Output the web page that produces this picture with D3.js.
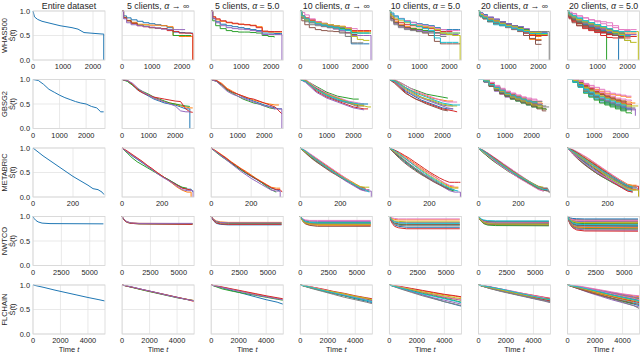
<!DOCTYPE html>
<html>
<head>
<meta charset="utf-8">
<script src="https://cdn.jsdelivr.net/npm/d3@7"></script>
<style>
  body { margin: 0; background: #fff; }
  text { font-family: "Liberation Sans", Arial, sans-serif; fill: #262626; }
</style>
</head>
<body>
<div id="chart"></div>
<script>
// matplotlib tab10 cycle
var colors = ["#1f77b4", "#ff7f0e", "#2ca02c", "#d62728", "#9467bd",
              "#8c564b", "#e377c2", "#7f7f7f", "#bcbd22", "#17becf"];

var columnTitles = [
  ["Entire dataset"],
  ["5 clients, ", "α", " → ∞"],
  ["5 clients, ", "α", " = 5.0"],
  ["10 clients, ", "α", " → ∞"],
  ["10 clients, ", "α", " = 5.0"],
  ["20 clients, ", "α", " → ∞"],
  ["20 clients, ", "α", " = 5.0"]
];

var datasetNames = ["WHAS500", "GBSG2", "METABRIC", "NWTCO", "FLCHAIN"];
var yTicks = [0, 0.5, 1];

// ---- WHAS500 ----
var whasTimes = [0, 50, 150, 300, 500, 700, 900, 1100, 1300, 1500, 1700, 1900, 2100, 2300, 2358];
var whasTicks = [0, 1000, 2000];
var whasCurves = [
  [[1,.88,.83,.79,.76,.73,.70,.68,.66,.63,.56,.55,.54,.53,0]],
  [[1,.90,.86,.82,.79,.76,.74,.72,.70,.66,.57,.56,.55,.55,.55],
   [1,.87,.81,.77,.73,.72,.71,.71,.70,.68,.50,.48,.48,.48,0],
   [1,.86,.80,.75,.71,.69,.66,.65,.64,.62,.50,.50,.50,.50],
   [1,.86,.80,.75,.70,.68,.66,.65,.64,.60,.58,.55,.55,.54,0],
   [1,.84,.76,.72,.70,.68,.67,.65,.63,.62,.62,.62,.62]],
  [[1,.85,.78,.73,.70,.68,.66,.64,.62,.60,.55,.55,.54,.54,.54],
   [1,.88,.82,.79,.76,.74,.73,.72,.71,.68,.58,.57,.57,.57,.57],
   [1,.80,.70,.64,.60,.58,.57,.57,.56,.55,.50,.48,.46],
   [1,.88,.84,.80,.77,.75,.73,.72,.70,.66,.59,.58,.58,.58,.58],
   [1,.84,.76,.70,.66,.64,.63,.62,.60,.58,.52,.52,.52,.52,0]],
  [[1,.90,.85,.80,.76,.72,.70,.68,.66,.62,.33,.33,.33,.33],
   [1,.88,.84,.80,.76,.74,.72,.70,.69,.66,.58,.58,.58,.58,.58],
   [1,.86,.80,.76,.73,.70,.68,.66,.64,.60,.56,.55,.55,.55,.55],
   [1,.90,.86,.82,.78,.75,.72,.70,.68,.65,.60,.60,.60,.60,.60],
   [1,.87,.82,.76,.72,.69,.66,.63,.60,.56,.50,.50,.50,.50,0],
   [1,.80,.72,.66,.62,.60,.59,.58,.57,.55,.52,.52],
   [1,.97,.92,.84,.78,.74,.72,.70,.68,.66,.64,.62],
   [1,.85,.78,.72,.70,.68,.66,.64,.55,.48,.35,.35,.35],
   [1,.88,.82,.78,.76,.74,.72,.70,.68,.64,.48,.42,.40,.40],
   [1,.90,.84,.78,.74,.71,.68,.66,.62,.60,.55,.55,.55,.55]],
  [[1,.92,.88,.84,.80,.77,.74,.72,.70,.66,.62,.62,.62,.62,.62],
   [1,.85,.78,.72,.68,.65,.63,.60,.58,.55,.52,.52,.52,.52],
   [1,.84,.76,.70,.66,.64,.62,.60,.58,.56,.55,.55,.55,.55,.55],
   [1,.88,.82,.76,.72,.70,.68,.66,.64,.60,.58,.58,.58],
   [1,.82,.74,.68,.64,.62,.60,.58,.57,.55,.52,.52,.52,.52],
   [1,.85,.76,.70,.66,.62,.58,.55,.50,.38,.33,.33,.33,.33,.33],
   [1,.95,.90,.85,.80,.76,.72,.70,.68,.64,.62,.60,.60,.60,.60],
   [1,.80,.72,.66,.62,.60,.58,.56,.55,.50,.48,.48],
   [1,.90,.84,.80,.76,.72,.70,.68,.66,.62,.55,.52,.50,.50,0],
   [1,.96,.90,.84,.78,.72,.68,.64,.60,.45,.36,.36,.36,.36]],
  [[1,.95,.92,.86,.80,.74,.70,.68,.64,.60,.55,.52,.52,.52],
   [1,.92,.88,.84,.78,.72,.68,.66,.62,.55,.42,.42,.42],
   [1,.90,.86,.82,.78,.74,.70,.66,.62,.56,.50,.50,.50,.50],
   [1,.94,.90,.84,.80,.76,.72,.70,.66,.60,.55,.55,.55],
   [1,.96,.92,.88,.84,.78,.74,.70,.66,.62,.55,.53,.53,.53],
   [1,.88,.84,.80,.76,.70,.66,.62,.58,.50,.44,.32,.32],
   [1,.93,.88,.82,.76,.72,.68,.64,.60,.56,.52,.52],
   [1,.90,.86,.82,.80,.78,.74,.70,.66,.62,.58,.58,.58,.58,0],
   [1,.95,.90,.85,.80,.76,.72,.68,.64,.58,.52,.52,.52,.52],
   [1,.92,.86,.78,.72,.70,.68,.64,.60,.55,.50,.50,.50],
   [1,.96,.92,.86,.82,.78,.74,.70,.68,.62,.56,.56,.56,.56],
   [1,.94,.88,.84,.78,.74,.70,.68,.64,.60,.52,.48,.48],
   [1,.90,.86,.80,.76,.74,.72,.70,.66,.62,.56,.54,.54,.54],
   [1,.92,.88,.84,.80,.76,.72,.68,.62,.55,.50,.50,.50,.50],
   [1,.94,.90,.86,.82,.78,.74,.70,.68,.64,.58,.56,.56],
   [1,.90,.84,.78,.74,.72,.70,.66,.62,.58,.54,.40,.40],
   [1,.95,.90,.84,.78,.74,.70,.66,.64,.60,.55,.55,.55,.55],
   [1,.92,.88,.82,.78,.76,.72,.68,.64,.60,.58,.58,.58,.58],
   [1,.93,.88,.84,.80,.74,.70,.68,.64,.60,.56,.56,.56],
   [1,.90,.86,.80,.76,.72,.68,.65,.62,.58,.54,.54,.54,.54]],
  [[1,.90,.84,.78,.72,.68,.64,.60,.56,.50,0],
   [1,.92,.86,.80,.76,.72,.68,.64,.60,.56,.50,.48,.48,.48],
   [1,.88,.80,.74,.70,.66,.62,.58,0],
   [1,.86,.78,.70,.64,.60,.56,.50,.46,.45,.45,.45,.45],
   [1,.94,.90,.84,.78,.72,.68,.64,.60,.56,.52,.52,.52,.52],
   [1,.84,.76,.70,.66,.62,.58,.55,.52,.50,.48,.48],
   [1,.98,.95,.90,.86,.82,.80,.78,.76,.70,.62,.60,.60],
   [1,.90,.84,.80,.76,.72,.68,.62,.58,.52,.45,.40,.36],
   [1,.92,.88,.84,.80,.76,.72,.68,.64,.60,.58,.58,.58,.58,0],
   [1,.95,.90,.85,.80,.76,.72,.68,.62,.56,.50,.50,.50],
   [1,.88,.82,.76,.72,.70,.66,.62,.58,.55,.52,.52,.52],
   [1,.94,.88,.82,.78,.74,.70,.66,.62,.58,.55,.55,.55,.55],
   [1,.90,.84,.78,.74,.70,.66,.62,.58,.55,.55,.55],
   [1,.86,.80,.74,.68,.64,.60,.56,.52,.50,.48,.48,.48,.48],
   [1,.92,.86,.80,.74,.70,.66,.62,.58,.56,.52,.52,.52],
   [1,.88,.82,.76,.70,.66,.62,.58,.54,.50,.46,.46],
   [1,.96,.94,.90,.86,.82,.78,.74,.70,.66,.62,.62,.62,.62],
   [1,.90,.86,.80,.76,.72,.70,.66,.62,.58,.55,.48,.48],
   [1,.92,.88,.82,.78,.74,.70,.66,.60,.56,.52,.40,.36,.36],
   [1,.94,.90,.86,.80,.76,.72,.68,.64,.60,.58,.58,.58,.58]]
];

// ---- GBSG2 ----
var gbsgTimes = [0, 200, 400, 600, 800, 1000, 1200, 1400, 1600, 1800, 2000, 2200, 2400, 2550, 2659];
var gbsgTicks = [0, 1000, 2000];
var gbsgCurves = [
  [[1,.98,.90,.80,.74,.68,.63,.59,.55,.52,.50,.45,.42,.34,.34]],
  [[1,.97,.88,.78,.72,.66,.60,.56,.52,.50,.48,.44,.40,0],
   [1,.98,.90,.80,.74,.68,.62,.58,.55,.52,.50,.46,.44,.42,.42],
   [1,.96,.88,.80,.75,.70,.64,.60,.56,.52,.50,.48,.46,.45],
   [1,.98,.90,.78,.72,.68,.64,.62,.60,.58,.56,.55,.40,.34,.33],
   [1,.98,.92,.82,.74,.68,.62,.58,.54,.50,.46,.36,.34,.34]],
  [[1,.97,.90,.80,.74,.70,.64,.60,.56,.52,.48,.45,.42,.40,.40],
   [1,.98,.92,.82,.76,.70,.66,.62,.58,.55,.52,.50,.48,.48],
   [1,.96,.88,.78,.72,.66,.60,.56,.52,.50,.46,.42,.40],
   [1,.98,.90,.80,.74,.70,.66,.62,.60,.56,.52,.48,.44,.36,.30],
   [1,.96,.86,.76,.70,.66,.62,.58,.54,.50,.46,.44,.40,.40,0]],
  [[1,.96,.88,.80,.74,.68,.62,.58,.55,.52,.50,.50,.50],
   [1,.98,.90,.82,.76,.70,.66,.62,.58,.55,.52,.48,.48],
   [1,.98,.92,.86,.80,.74,.70,.66,.64,.62,.60,.60],
   [1,.96,.86,.76,.70,.64,.60,.56,.52,.48,.44,.42,.40,.40],
   [1,.94,.84,.74,.68,.62,.58,.54,.50,.46,.42,.40,.38],
   [1,.98,.90,.82,.76,.72,.66,.62,.58,.54,.50,.46,.46],
   [1,1,.92,.84,.78,.72,.68,.64,.60,.56,.54,.52,.50,.50],
   [1,.96,.88,.78,.72,.66,.62,.58,.55,.52,.48,.44],
   [1,.98,.90,.80,.74,.70,.66,.62,.58,.54,.50,.48,.46,.44,.44],
   [1,.96,.88,.80,.74,.68,.64,.60,.56,.54,.52,.50,.50,.50]],
  [[1,.96,.86,.76,.70,.64,.58,.54,.50,.46,.42,.40,.40],
   [1,.98,.92,.84,.78,.74,.70,.66,.62,.60,.58,.56,.56],
   [1,.98,.94,.88,.82,.78,.74,.70,.68,.66,.64,.62],
   [1,.94,.84,.74,.66,.60,.56,.52,.48,.44,.40,.38,.36,.34],
   [1,.96,.88,.78,.72,.66,.62,.58,.54,.50,.46,.42,.40],
   [1,.92,.82,.72,.66,.60,.55,.50,.46,.42,.38,.36],
   [1,1,.94,.88,.82,.76,.72,.68,.64,.60,.56,.54,.54,.54],
   [1,.96,.90,.82,.76,.70,.64,.60,.56,.52,.48,.46,.46],
   [1,.98,.90,.80,.74,.68,.64,.60,.58,.54,.50,.48,.46,.46],
   [1,.97,.90,.84,.78,.72,.68,.64,.60,.56,.52,.50,.48,.48,.48]],
  [[1,.98,.90,.80,.74,.70,.64,.60,.55,.52,.48,.46],
   [1,.96,.88,.78,.70,.66,.62,.58,.54,.50,.46,.42,.42],
   [1,1,.94,.86,.80,.74,.70,.66,.62,.58,.55,.55,.55],
   [1,.97,.90,.82,.76,.72,.68,.62,.58,.54,.50,.48,.40,.40],
   [1,.95,.86,.76,.70,.64,.60,.56,.52,.48,.44,.40],
   [1,.98,.92,.84,.78,.72,.66,.60,.56,.50,.46,.40,.36,.36],
   [1,1,.94,.88,.82,.76,.72,.68,.64,.62,.60,.58],
   [1,.96,.90,.80,.74,.68,.64,.60,.56,.52,.48,.46,.44,.44,.44],
   [1,.98,.90,.82,.76,.70,.66,.62,.60,.56,.52,.50],
   [1,.97,.88,.80,.72,.68,.64,.60,.56,.54,.50,.48,.48],
   [1,.95,.88,.78,.72,.66,.62,.58,.54,.50,.48,.44],
   [1,1,.92,.84,.78,.74,.70,.66,.62,.58,.54,.52,.50],
   [1,.96,.86,.78,.72,.66,.60,.56,.52,.48,.44,.42,.40,.38],
   [1,.98,.92,.84,.78,.72,.68,.64,.58,.54,.50,.46],
   [1,.97,.90,.82,.76,.70,.66,.62,.58,.56,.52,.50,.50],
   [1,.95,.86,.78,.72,.66,.62,.58,.54,.50,.46,.44],
   [1,1,.94,.86,.80,.76,.72,.68,.64,.60,.58,.56,.56],
   [1,.96,.88,.80,.74,.70,.66,.62,.58,.54,.52,.48,.46,.46],
   [1,.98,.90,.82,.76,.70,.64,.60,.56,.52,.48,.46,.44],
   [1,.97,.90,.84,.78,.72,.68,.64,.60,.56,.54,.52]],
  [[1,.96,.86,.74,.66,.60,.54,.50,.46,.42,.38,.36],
   [1,1,.96,.90,.84,.80,.76,.72,.70,.68,.66,.64,.64],
   [1,.94,.84,.72,.64,.58,.52,.48,.44,.40,.36,.32,.30],
   [1,.98,.92,.84,.78,.72,.66,.62,.58,.54,.50,.46],
   [1,.95,.88,.80,.72,.66,.60,.54,.50,.46,.42,.40,.38,.38],
   [1,1,.94,.86,.80,.74,.70,.66,.62,.58,.54,.52],
   [1,1,.98,.92,.88,.84,.80,.76,.72,.70,.68,.66,.66],
   [1,.96,.88,.78,.70,.64,.58,.54,.50,.46,.42,.38,.34],
   [1,.97,.90,.82,.76,.70,.66,.62,.58,.54,.50,.48,.46,.46,.46],
   [1,.94,.84,.74,.68,.62,.58,.54,.50,.48,.44,.40],
   [1,.98,.90,.80,.72,.66,.60,.56,.52,.48,.44,.40,.38],
   [1,.97,.92,.86,.80,.76,.72,.68,.64,.60,.56,.54,.52,.52],
   [1,.95,.86,.76,.70,.64,.58,.52,.48,.44,.40,.36],
   [1,.98,.94,.88,.82,.76,.70,.64,.60,.56,.52,.50,.48],
   [1,.96,.88,.80,.74,.68,.62,.58,.54,.50,.46,.42,.40,.26],
   [1,.99,.94,.86,.80,.74,.70,.66,.62,.58,.56,.54],
   [1,1,.96,.90,.84,.78,.74,.70,.66,.62,.60,.58,.56],
   [1,.96,.86,.76,.70,.64,.60,.56,.52,.48,.46,.44,.42,.42],
   [1,.98,.92,.84,.78,.72,.66,.62,.58,.54,.50,.46,.44],
   [1,.95,.88,.80,.74,.68,.64,.60,.56,.52,.48,.46]]
];

// ---- METABRIC ----
var metabricTimes = [0, 25, 50, 75, 100, 125, 150, 175, 200, 225, 250, 275, 300, 325, 345, 355];
var metabricTicks = [0, 200];
var metabricCurves = [
  [[1,.92,.84,.77,.70,.63,.56,.49,.42,.36,.30,.24,.17,.15,.10,.05]],
  [[1,.92,.84,.77,.70,.63,.56,.49,.42,.37,.31,.25,.19,.16,.16,.10],
   [1,.93,.86,.79,.72,.64,.57,.50,.43,.36,.28,.20,.14,.10,0],
   [1,.90,.80,.72,.66,.60,.54,.48,.42,.37,.31,.25,.20,.18],
   [1,.94,.87,.80,.73,.65,.58,.50,.43,.36,.30,.24,.18,.16,.14],
   [1,.92,.85,.78,.71,.63,.56,.48,.41,.35,.29,.22,.15,.13,.13,0]],
  [[1,.92,.85,.78,.70,.62,.55,.48,.42,.36,.30,.24,.18,.15,.12],
   [1,.94,.87,.80,.72,.65,.58,.52,.45,.38,.32,.26,.20,.18,.18],
   [1,.91,.83,.76,.69,.62,.55,.49,.43,.37,.30,.22,.15,.10],
   [1,.93,.86,.79,.71,.64,.57,.50,.43,.37,.31,.25,.19,.15,.15,.10],
   [1,.92,.84,.76,.68,.60,.52,.45,.38,.32,.26,.20,.14,.12,0]],
  [[1,.92,.84,.76,.69,.62,.55,.48,.41,.35,.29,.23,.17,.15,.15],
   [1,.94,.87,.80,.73,.66,.59,.52,.45,.39,.33,.27,.21,.18],
   [1,.91,.82,.74,.67,.60,.54,.48,.42,.36,.30,.24,.19,.16,.12],
   [1,.93,.86,.79,.72,.65,.58,.51,.44,.37,.30,.23,.16,.13],
   [1,.92,.85,.77,.70,.62,.55,.48,.40,.33,.27,.21,.15,.12,.12,0],
   [1,.90,.81,.73,.66,.59,.52,.46,.40,.35,.30,.25,.20,.18],
   [1,.95,.88,.81,.74,.67,.60,.53,.46,.39,.32,.25,.19,.16,.14],
   [1,.93,.84,.76,.68,.61,.54,.47,.41,.35,.29,.23,.18,.15],
   [1,.92,.85,.78,.71,.64,.57,.50,.43,.37,.31,.26,.21,.20,.20],
   [1,.94,.86,.78,.71,.63,.56,.49,.42,.36,.30,.24,.18,.14,.10]],
  [[1,.90,.81,.72,.64,.57,.50,.43,.37,.31,.26,.21,.16,.14],
   [1,.95,.89,.83,.76,.69,.62,.55,.48,.42,.35,.28,.22,.20,.20],
   [1,.91,.82,.74,.66,.58,.51,.44,.38,.32,.26,.20,.15,.12],
   [1,.96,.91,.85,.79,.72,.65,.58,.51,.45,.39,.34,.30,.30,.30,.30],
   [1,.92,.84,.76,.68,.60,.52,.45,.38,.31,.25,.19,.13,.10,.10,0],
   [1,.89,.79,.70,.62,.55,.48,.42,.36,.30,.25,.20,.16],
   [1,.94,.88,.81,.74,.67,.60,.53,.47,.41,.35,.29,.24,.22],
   [1,.91,.83,.75,.67,.60,.53,.46,.40,.34,.28,.22,.18,.15],
   [1,.93,.86,.79,.72,.65,.58,.51,.44,.38,.32,.26,.20,.18,.18],
   [1,.95,.88,.80,.72,.64,.56,.49,.42,.36,.30,.24,.18,.14,.12]],
  [[1,.92,.84,.77,.70,.62,.55,.48,.42,.36,.30,.24,.18,.16],
   [1,.94,.87,.80,.73,.66,.59,.52,.45,.38,.31,.24,.18,.14,.14],
   [1,.90,.81,.73,.66,.59,.52,.46,.40,.34,.28,.22,.17],
   [1,.93,.86,.79,.72,.65,.58,.51,.44,.37,.31,.25,.19,.17,.12],
   [1,.92,.85,.78,.70,.62,.55,.48,.41,.35,.29,.23,.16,.12],
   [1,.91,.82,.74,.67,.60,.53,.47,.41,.36,.31,.26,.21,.18,.18],
   [1,.95,.89,.82,.75,.68,.61,.54,.47,.40,.33,.26,.20,.16],
   [1,.92,.84,.76,.68,.61,.54,.47,.41,.35,.29,.23,.18,.15,.15,.08],
   [1,.93,.86,.79,.72,.65,.58,.51,.44,.38,.32,.27,.22,.20],
   [1,.94,.86,.78,.70,.63,.56,.49,.42,.36,.30,.24,.18,.14],
   [1,.91,.83,.76,.69,.62,.55,.49,.43,.37,.31,.25,.19,.15,.13],
   [1,.93,.85,.77,.70,.63,.56,.49,.42,.35,.29,.23,.17,.13],
   [1,.90,.82,.75,.68,.61,.54,.47,.40,.34,.28,.22,.16],
   [1,.94,.88,.81,.74,.66,.59,.52,.45,.38,.32,.26,.20,.17,.17],
   [1,.92,.84,.76,.69,.62,.55,.48,.42,.36,.31,.26,.21,.18],
   [1,.93,.85,.78,.71,.64,.57,.50,.43,.36,.30,.24,.18,.14,.12],
   [1,.91,.83,.75,.67,.60,.53,.46,.39,.33,.27,.21,.15,.12],
   [1,.95,.88,.80,.73,.66,.59,.52,.45,.39,.33,.27,.21,.18,.18,.10],
   [1,.92,.85,.78,.71,.64,.57,.50,.44,.38,.32,.26,.20,.16],
   [1,.93,.86,.78,.70,.63,.56,.49,.43,.37,.31,.25,.19,.15,.15]],
  [[1,.90,.80,.71,.63,.56,.49,.42,.36,.30,.25,.20,.15,.12],
   [1,.96,.91,.85,.79,.72,.65,.58,.51,.44,.38,.32,.26,.24,.24],
   [1,.89,.79,.70,.62,.54,.47,.41,.35,.29,.24,.19,.14],
   [1,.94,.88,.82,.76,.70,.63,.56,.49,.42,.36,.30,.24,.22,.22,0],
   [1,.92,.84,.75,.66,.58,.50,.43,.36,.30,.24,.18,.13,.10],
   [1,.88,.78,.69,.61,.54,.47,.41,.36,.31,.27,.23,.19,.17],
   [1,.97,.92,.86,.80,.73,.66,.59,.52,.45,.38,.31,.25,.20],
   [1,.91,.82,.73,.65,.57,.50,.43,.37,.31,.26,.21,.17,.15,.15],
   [1,.94,.87,.80,.73,.66,.59,.52,.46,.40,.34,.29,.24,.22,.20],
   [1,.93,.85,.77,.69,.61,.53,.46,.39,.33,.27,.21,.15,.12],
   [1,.90,.81,.73,.65,.58,.51,.45,.39,.33,.28,.23,.18],
   [1,.95,.89,.82,.75,.68,.61,.54,.47,.40,.33,.26,.19,.15,.15],
   [1,.92,.83,.75,.68,.61,.54,.48,.42,.36,.31,.26,.22,.20],
   [1,.93,.86,.78,.70,.62,.54,.46,.38,.31,.24,.18,.12,.10],
   [1,.91,.83,.76,.69,.62,.56,.50,.44,.38,.33,.28,.23,.20,.20,.12],
   [1,.96,.90,.83,.76,.69,.62,.55,.48,.41,.35,.29,.23,.18],
   [1,.89,.80,.72,.64,.57,.50,.44,.38,.32,.27,.22,.17,.14],
   [1,.94,.86,.79,.72,.65,.58,.51,.44,.38,.32,.26,.20,.18,.18],
   [1,.92,.85,.78,.71,.63,.56,.49,.42,.35,.29,.23,.17,.14,.14,0],
   [1,.93,.87,.80,.73,.66,.60,.53,.47,.41,.35,.29,.23,.20]]
];

// ---- NWTCO ----
var nwtcoTimes = [0, 100, 250, 450, 800, 1500, 6209];
var nwtcoTicks = [0, 2500, 5000];
var nwtcoCurves = [
  [[1,.96,.92,.89,.865,.855,.85]],
  [[1,.96,.92,.89,.865,.855,.85],
   [1,.96,.92,.89,.87,.86,.855],
   [1,.95,.91,.88,.86,.85,.845],
   [1,.96,.91,.88,.86,.85,.84],
   [1,.96,.92,.89,.87,.86,.86]],
  [[1,.95,.90,.86,.84,.83,.83],
   [1,.97,.94,.91,.89,.88,.88],
   [1,.96,.92,.89,.87,.86,.86],
   [1,.96,.91,.87,.85,.84,.84],
   [1,.97,.93,.90,.88,.87,.87]],
  [[1,.96,.92,.88,.86,.85,.85],
   [1,.95,.90,.86,.83,.82,.82],
   [1,.97,.94,.91,.89,.88,.88],
   [1,.96,.91,.87,.85,.84,.83],
   [1,.97,.94,.92,.91,.90,.90],
   [1,.95,.89,.85,.82,.80,.80],
   [1,.98,.95,.93,.92,.92,.92],
   [1,.96,.92,.89,.87,.86,.86],
   [1,.95,.90,.87,.85,.84,.84],
   [1,.97,.93,.90,.88,.87,.87]],
  [[1,.94,.88,.83,.80,.78,.78],
   [1,.98,.96,.94,.93,.93,.93],
   [1,.95,.90,.86,.84,.83,.83],
   [1,.93,.86,.80,.77,.75,.75],
   [1,.97,.93,.90,.88,.88,.88],
   [1,.96,.91,.87,.85,.84,.84],
   [1,.99,.97,.96,.95,.95,.95],
   [1,.95,.89,.85,.82,.81,.81],
   [1,.97,.94,.91,.90,.89,.89],
   [1,.96,.92,.89,.87,.86,.86]],
  [[1,.96,.92,.89,.865,.855,.85],
   [1,.95,.91,.87,.845,.835,.83],
   [1,.97,.94,.91,.89,.885,.88],
   [1,.96,.92,.89,.87,.865,.86],
   [1,.96,.91,.88,.855,.845,.84],
   [1,.97,.94,.92,.905,.90,.90],
   [1,.95,.90,.86,.835,.825,.82],
   [1,.96,.93,.90,.88,.875,.87],
   [1,.96,.92,.89,.865,.855,.85],
   [1,.97,.94,.915,.90,.895,.89],
   [1,.96,.91,.88,.855,.845,.84],
   [1,.96,.92,.89,.87,.865,.86],
   [1,.95,.90,.855,.825,.815,.81],
   [1,.97,.94,.91,.89,.885,.88],
   [1,.96,.92,.89,.865,.855,.85],
   [1,.95,.91,.87,.845,.835,.83],
   [1,.96,.93,.90,.88,.875,.87],
   [1,.96,.92,.89,.87,.865,.86],
   [1,.96,.91,.88,.855,.845,.84],
   [1,.98,.95,.93,.915,.91,.91]],
  [[1,.94,.88,.84,.815,.805,.80],
   [1,.97,.94,.92,.905,.90,.90],
   [1,.93,.86,.80,.77,.755,.75],
   [1,.96,.92,.89,.87,.865,.86],
   [1,.92,.84,.78,.745,.725,.72],
   [1,.98,.96,.945,.935,.93,.93],
   [1,.96,.91,.88,.855,.845,.84],
   [1,.94,.87,.82,.795,.785,.78],
   [1,.97,.94,.91,.89,.885,.88],
   [1,.95,.90,.86,.835,.825,.82],
   [1,.99,.97,.96,.955,.95,.95],
   [1,.93,.87,.81,.785,.775,.77],
   [1,.96,.92,.89,.865,.855,.85],
   [1,.91,.83,.77,.725,.705,.70],
   [1,.97,.94,.915,.90,.895,.89],
   [1,.95,.90,.855,.825,.815,.81],
   [1,.98,.95,.935,.925,.92,.92],
   [1,.92,.85,.79,.76,.745,.74],
   [1,.96,.93,.90,.88,.875,.87],
   [1,.95,.91,.87,.845,.835,.83]]
];

// ---- FLCHAIN ----
var flchainTimes = [0, 800, 1600, 2400, 3200, 4000, 4800, 5215];
var flchainTicks = [0, 2000, 4000];
var flchainCurves = [
  [[1,.95,.895,.845,.795,.745,.70,.675]],
  [[1,.95,.90,.85,.80,.75,.70,.68],
   [1,.95,.895,.845,.795,.745,.705,.685],
   [1,.945,.89,.84,.79,.74,.70,.68],
   [1,.95,.90,.85,.80,.75,.70,.665],
   [1,.955,.90,.85,.795,.745,.70,.68]],
  [[1,.94,.88,.82,.76,.70,.65,.61],
   [1,.955,.905,.86,.815,.77,.73,.71],
   [1,.92,.87,.83,.79,.75,.71,.69],
   [1,.96,.915,.87,.825,.78,.74,.72],
   [1,.95,.90,.85,.80,.76,.72,.70]],
  [[1,.95,.89,.83,.78,.72,.67,.64],
   [1,.96,.91,.86,.81,.77,.73,.71],
   [1,.94,.88,.83,.78,.73,.69,.67],
   [1,.96,.92,.87,.83,.78,.74,.72],
   [1,.95,.90,.84,.79,.74,.70,.68],
   [1,.94,.89,.84,.79,.75,.71,.69],
   [1,.96,.91,.85,.80,.75,.70,.66],
   [1,.93,.87,.81,.75,.70,.65,.62],
   [1,.95,.90,.86,.82,.77,.73,.70],
   [1,.95,.89,.84,.79,.74,.69,.66]],
  [[1,.94,.87,.80,.73,.66,.60,.57],
   [1,.96,.92,.88,.84,.80,.77,.75],
   [1,.95,.89,.83,.78,.73,.68,.65],
   [1,.97,.93,.89,.85,.81,.78,.76],
   [1,.93,.86,.80,.74,.69,.64,.61],
   [1,.95,.90,.85,.80,.75,.71,.69],
   [1,.96,.91,.86,.81,.76,.72,.70],
   [1,.92,.85,.78,.72,.66,.61,.58],
   [1,.95,.91,.86,.82,.78,.74,.72],
   [1,.94,.88,.82,.77,.72,.67,.64]],
  [[1,.95,.89,.84,.79,.74,.69,.67],
   [1,.96,.91,.86,.81,.77,.73,.71],
   [1,.94,.88,.83,.78,.73,.69],
   [1,.96,.92,.87,.83,.79,.75,.73],
   [1,.95,.90,.85,.80,.75,.70,.68],
   [1,.94,.89,.84,.79,.74,.70,.66],
   [1,.97,.92,.88,.83,.78,.74,.72],
   [1,.93,.87,.82,.77,.72,.67,.64],
   [1,.95,.90,.86,.82,.77,.73],
   [1,.95,.89,.84,.79,.74,.70,.68],
   [1,.96,.91,.86,.81,.76,.71,.69],
   [1,.94,.89,.84,.79,.75,.71,.69],
   [1,.95,.91,.86,.81,.76,.72,.70],
   [1,.96,.90,.85,.80,.75,.70,.67],
   [1,.94,.88,.83,.78,.73,.68,.65],
   [1,.95,.90,.85,.81,.77,.73,.71],
   [1,.96,.91,.87,.82,.78,.74],
   [1,.93,.88,.83,.78,.73,.68,.66],
   [1,.95,.90,.85,.80,.76,.72,.70],
   [1,.96,.92,.87,.82,.77,.72,.70]],
  [[1,.94,.87,.80,.73,.67,.61,.58],
   [1,.97,.93,.89,.85,.81,.78,.76],
   [1,.93,.86,.79,.73,.67,.62],
   [1,.96,.92,.87,.83,.79,.75,.73],
   [1,.92,.84,.77,.70,.64,.58,.55],
   [1,.95,.90,.85,.80,.75,.70,.68],
   [1,.98,.94,.90,.86,.82,.79,.78],
   [1,.93,.86,.79,.72,.65,.58,.52],
   [1,.95,.91,.86,.82,.78,.74,.72],
   [1,.94,.88,.82,.76,.70,.65,.62],
   [1,.96,.91,.86,.81,.76,.71,.69],
   [1,.93,.87,.81,.76,.71,.66],
   [1,.95,.90,.85,.81,.77,.73,.71],
   [1,.94,.88,.83,.77,.72,.67,.64],
   [1,.96,.92,.88,.84,.80,.76,.74],
   [1,.92,.85,.79,.73,.68,.63,.60],
   [1,.97,.92,.87,.82,.77,.73,.70],
   [1,.94,.89,.84,.79,.74,.69,.66],
   [1,.95,.89,.83,.78,.73,.69,.67],
   [1,.96,.91,.86,.80,.75,.70,.68]]
];

// stepFrom: first column drawn as a step function (others as straight segments)
var datasets = [
  {times: whasTimes,     ticks: whasTicks,     xmax: 2400, curves: whasCurves,     stepFrom: 1},
  {times: gbsgTimes,     ticks: gbsgTicks,     xmax: 2710, curves: gbsgCurves,     stepFrom: 5},
  {times: metabricTimes, ticks: metabricTicks, xmax: 360,  curves: metabricCurves, stepFrom: 99},
  {times: nwtcoTimes,    ticks: nwtcoTicks,    xmax: 6350, curves: nwtcoCurves,    stepFrom: 99},
  {times: flchainTimes,  ticks: flchainTicks,  xmax: 5240, curves: flchainCurves,  stepFrom: 99}
];

// layout of the panel grid
var W = 640, H = 353;
var left0 = 33, colPitch = 89.1, pw = 72;
var top0 = 11, rowPitch = 68.5, ph = 49;

var svg = d3.select("#chart")
    .append("svg")
    .attr("width", W)
    .attr("height", H);

// column titles
columnTitles.forEach(function (parts, c) {
  var t = svg.append("text")
      .attr("x", left0 + c * colPitch + pw / 2)
      .attr("y", 8.5)
      .attr("text-anchor", "middle")
      .style("font-size", "8.8px");
  parts.forEach(function (p) {
    t.append("tspan").text(p).style("font-style", p === "α" ? "italic" : null);
  });
});

datasets.forEach(function (ds, r) {
  var top = top0 + r * rowPitch;

  // row label
  var cy = top + ph / 2;
  svg.append("text")
      .attr("transform", "translate(7," + cy + ") rotate(-90)")
      .attr("text-anchor", "middle")
      .style("font-size", "7.5px")
      .text(datasetNames[r]);
  svg.append("text")
      .attr("transform", "translate(15," + cy + ") rotate(-90)")
      .attr("text-anchor", "middle")
      .style("font-size", "7.5px")
      .text("Ŝ(t)");

  ds.curves.forEach(function (panel, c) {
    var g = svg.append("g")
        .attr("transform", "translate(" + (left0 + c * colPitch) + "," + top + ")");

    var x = d3.scaleLinear().domain([0, ds.xmax]).range([0, pw]);
    var y = d3.scaleLinear().domain([0, 1]).range([ph, 0]);

    // grid
    g.selectAll(".gx").data(ds.ticks).enter().append("line")
        .attr("x1", function (d) { return x(d); })
        .attr("x2", function (d) { return x(d); })
        .attr("y1", 0).attr("y2", ph)
        .style("stroke", "#e3e3e3").style("stroke-width", 0.8);
    g.selectAll(".gy").data(yTicks).enter().append("line")
        .attr("x1", 0).attr("x2", pw)
        .attr("y1", function (d) { return y(d); })
        .attr("y2", function (d) { return y(d); })
        .style("stroke", "#e3e3e3").style("stroke-width", 0.8);

    // survival curves: a value of 0 means the curve falls straight down at that time
    var step = c >= ds.stepFrom;
    var line = d3.line()
        .x(function (d) { return x(d[0]); })
        .y(function (d) { return y(d[1]); })
        .curve(step ? d3.curveStepAfter : d3.curveLinear);

    function points(vals) {
      var pts = [];
      vals.forEach(function (v, i) {
        if (v === 0 && i > 0 && !step) pts.push([ds.times[i], vals[i - 1]]);
        pts.push([ds.times[i], v]);
      });
      return pts;
    }

    g.selectAll(".curve").data(panel).enter().append("path")
        .attr("d", function (d) { return line(points(d)); })
        .style("fill", "none")
        .style("stroke", function (d, i) { return colors[i % 10]; })
        .style("stroke-width", 1);

    // frame
    g.append("rect")
        .attr("width", pw).attr("height", ph)
        .style("fill", "none")
        .style("stroke", "#d6d6d6")
        .style("stroke-width", 0.8);

    // x tick labels
    g.selectAll(".xt").data(ds.ticks).enter().append("text")
        .attr("x", function (d) { return x(d); })
        .attr("y", ph + 9)
        .attr("text-anchor", "middle")
        .style("font-size", "7.4px")
        .text(function (d) { return d; });

    // y tick labels only on the first column
    if (c === 0) {
      g.selectAll(".yt").data(yTicks).enter().append("text")
          .attr("x", -3)
          .attr("y", function (d) { return y(d) + 2.7; })
          .attr("text-anchor", "end")
          .style("font-size", "7.4px")
          .text(function (d) { return d3.format(".1f")(d); });
    }

    if (r === datasets.length - 1) {
      var lab = g.append("text")
          .attr("x", pw / 2)
          .attr("y", ph + 18)
          .attr("text-anchor", "middle")
          .style("font-size", "7.5px");
      lab.append("tspan").text("Time ");
      lab.append("tspan").text("t").style("font-style", "italic");
    }
  });
});
</script>
</body>
</html>
